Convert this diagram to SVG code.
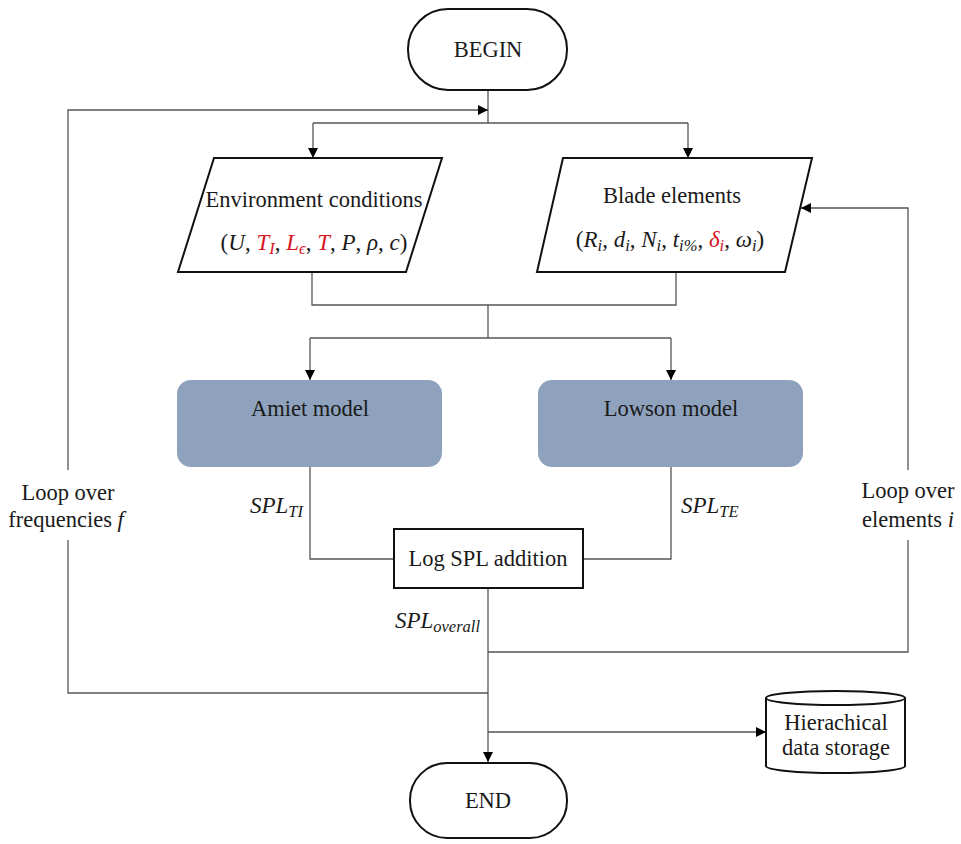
<svg xmlns="http://www.w3.org/2000/svg" width="961" height="844" viewBox="0 0 961 844">
<style>
  .t { font-family: "Liberation Serif", "Times New Roman", serif; font-size: 22.5px; fill: #1a1a1a; }
  .m { font-family: "Liberation Serif", "Times New Roman", serif; font-size: 23px; fill: #1a1a1a; }
  .it { font-style: italic; }
  .red { fill: #d8141f; }
  .sub { font-size: 16.5px; }
  .shape { fill: #ffffff; stroke: #111; stroke-width: 2; }
  .model { fill: #8fa2bd; stroke: none; }
  .c { fill: none; stroke: #555; stroke-width: 1.3; }
</style>
<defs>
  <marker id="arr" viewBox="0 0 10 10" refX="10" refY="5" markerWidth="10" markerHeight="10" markerUnits="userSpaceOnUse" orient="auto">
    <path d="M0,0 L10,5 L0,10 z" fill="#000"/>
  </marker>
</defs>
<rect width="961" height="844" fill="#ffffff"/>

<g id="connectors">
  <path class="c" d="M488,90 V123"/>
  <path class="c" d="M313,123 H688"/>
  <path class="c" d="M313,123 V158" marker-end="url(#arr)"/>
  <path class="c" d="M688,123 V158" marker-end="url(#arr)"/>
  <path class="c" d="M312,272 V305 H676 V272"/>
  <path class="c" d="M488,305 V338"/>
  <path class="c" d="M310,338 H671"/>
  <path class="c" d="M310,338 V380" marker-end="url(#arr)"/>
  <path class="c" d="M671,338 V380" marker-end="url(#arr)"/>
  <path class="c" d="M310,467 V559 H394"/>
  <path class="c" d="M671,467 V559 H583"/>
  <path class="c" d="M488,588 V762" marker-end="url(#arr)"/>
  <path class="c" d="M488,693 H68 V540"/>
  <path class="c" d="M68,470 V110 H488" marker-end="url(#arr)"/>
  <path class="c" d="M488,652 H908 V540"/>
  <path class="c" d="M908,470 V208 H801" marker-end="url(#arr)"/>
  <path class="c" d="M488,732 H766" marker-end="url(#arr)"/>
</g>

<g id="begin">
  <rect class="shape" x="408" y="9" width="159" height="81" rx="40" ry="40"/>
  <text class="t" x="488" y="57" text-anchor="middle">BEGIN</text>
</g>

<g id="environment">
  <polygon class="shape" points="214,158 442,158 406,272 178,272"/>
  <text class="t" x="314" y="207" text-anchor="middle">Environment conditions</text>
  <text class="m" x="314" y="250" text-anchor="middle">(<tspan class="it">U</tspan>, <tspan class="it red">T</tspan><tspan class="it red sub" baseline-shift="-4">I</tspan>, <tspan class="it red">L</tspan><tspan class="it red sub" baseline-shift="-4">ϵ</tspan>, <tspan class="it red">T</tspan>, <tspan class="it">P</tspan>, <tspan class="it">ρ</tspan>, <tspan class="it">c</tspan>)</text>
</g>

<g id="blade">
  <polygon class="shape" points="563,158 812,158 785,272 537,272"/>
  <text class="t" x="672" y="203" text-anchor="middle">Blade elements</text>
  <text class="m" x="670" y="247" text-anchor="middle">(<tspan class="it">R</tspan><tspan class="it sub" baseline-shift="-4">i</tspan>, <tspan class="it">d</tspan><tspan class="it sub" baseline-shift="-4">i</tspan>, <tspan class="it">N</tspan><tspan class="it sub" baseline-shift="-4">i</tspan>, <tspan class="it">t</tspan><tspan class="it sub" baseline-shift="-4">i%</tspan>, <tspan class="it red">δ</tspan><tspan class="it red sub" baseline-shift="-4">i</tspan>, <tspan class="it">ω</tspan><tspan class="it sub" baseline-shift="-4">i</tspan>)</text>
</g>

<g id="amiet">
  <rect class="model" x="177" y="380" width="265" height="87" rx="14" ry="14"/>
  <text class="t" x="310" y="416" text-anchor="middle">Amiet model</text>
</g>

<g id="lowson">
  <rect class="model" x="538" y="380" width="265" height="87" rx="14" ry="14"/>
  <text class="t" x="671" y="416" text-anchor="middle">Lowson model</text>
</g>

<g id="logspl">
  <rect class="shape" x="394" y="529" width="189" height="59"/>
  <text class="t" x="488" y="566" text-anchor="middle">Log SPL addition</text>
</g>

<g id="storage">
  <path class="shape" d="M766,698 V766 A69.5,7 0 0 0 905,766 V698"/>
  <ellipse class="shape" cx="835.5" cy="698" rx="69.5" ry="7"/>
  <text class="t" x="836" y="730" text-anchor="middle">Hierachical</text>
  <text class="t" x="836" y="755" text-anchor="middle">data storage</text>
</g>

<g id="end">
  <rect class="shape" x="410" y="763" width="157" height="75" rx="37" ry="37"/>
  <text class="t" x="488" y="808" text-anchor="middle">END</text>
</g>

<g id="labels">
  <text class="m it" x="303" y="513" text-anchor="end">SPL<tspan class="sub" baseline-shift="-4">TI</tspan></text>
  <text class="m it" x="681" y="513">SPL<tspan class="sub" baseline-shift="-4">TE</tspan></text>
  <text class="m it" x="480" y="628" text-anchor="end">SPL<tspan class="sub" baseline-shift="-4">overall</tspan></text>
  <text class="t" x="68" y="500" text-anchor="middle">Loop over</text>
  <text class="t" x="66" y="527" text-anchor="middle">frequencies <tspan class="it">f</tspan></text>
  <text class="t" x="908" y="498" text-anchor="middle">Loop over</text>
  <text class="t" x="908" y="527" text-anchor="middle">elements <tspan class="it">i</tspan></text>
</g>
</svg>
